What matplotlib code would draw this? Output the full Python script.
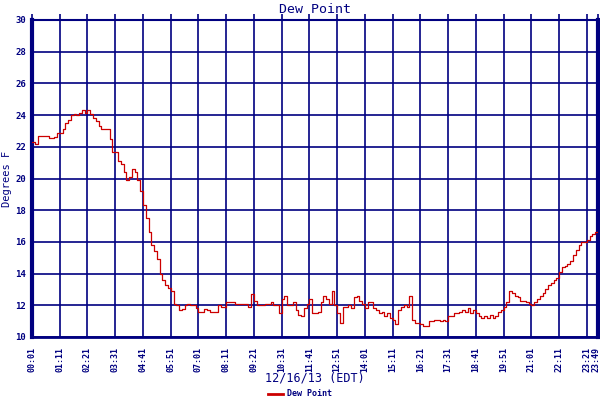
import numpy as np
import matplotlib
matplotlib.use("Agg")
import matplotlib.pyplot as plt
import matplotlib.transforms as mtransforms

# Sample times: minutes after midnight, every 7 minutes from 00:01 to 23:49
start_minute = 1
step_minutes = 7
dew_point = [
    22.3, 22.2, 22.65, 22.7, 22.7, 22.7, 22.55, 22.55, 22.6, 22.9,
    22.9, 23.1, 23.5, 23.7, 24.0, 24.1, 24.0, 24.15, 24.35, 24.15,
    24.3, 24.1, 23.8, 23.6, 23.3, 23.1, 23.1, 23.1, 22.5, 21.7,
    21.7, 21.1, 20.9, 20.4, 19.9, 20.1, 20.6, 20.4, 19.9, 19.2,
    18.3, 17.5, 16.6, 15.8, 15.4, 14.9, 14.0, 13.6, 13.3, 13.1,
    12.9, 12.1, 12.05, 11.7, 11.75, 12.0, 12.1, 12.0, 12.0, 11.8,
    11.6, 11.6, 11.75, 11.7, 11.6, 11.6, 11.6, 12.0, 11.9, 11.9,
    12.2, 12.2, 12.2, 12.1, 12.1, 12.1, 12.1, 12.1, 11.9, 12.7,
    12.3, 12.0, 12.0, 12.0, 12.1, 12.1, 12.2, 12.0, 12.0, 11.5,
    12.4, 12.6, 12.0, 12.0, 12.2, 11.7, 11.4, 11.3, 11.8, 12.1,
    12.4, 11.5, 11.5, 11.6, 12.2, 12.6, 12.4, 12.1, 12.9, 12.0,
    11.5, 10.9, 11.9, 11.9, 12.0, 11.8, 12.5, 12.6, 12.3, 12.1,
    11.8, 12.2, 12.2, 11.8, 11.7, 11.5, 11.6, 11.3, 11.5, 11.2,
    11.1, 10.8, 11.7, 11.9, 12.0, 11.9, 12.6, 11.1, 10.9, 10.9,
    10.85, 10.7, 10.7, 11.0, 11.0, 11.1, 11.1, 11.0, 11.05, 11.0,
    11.3, 11.3, 11.5, 11.5, 11.6, 11.7, 11.6, 11.8, 11.5, 11.7,
    11.5, 11.3, 11.2, 11.3, 11.2, 11.4, 11.2, 11.3, 11.6, 11.7,
    11.9, 12.2, 12.9, 12.8, 12.6, 12.5, 12.3, 12.3, 12.2, 12.1,
    12.0, 12.2, 12.4, 12.6, 12.8, 13.0, 13.3, 13.4, 13.6, 13.7,
    14.1, 14.4, 14.5, 14.6, 14.8, 15.2, 15.5, 15.8, 16.0, 16.0,
    16.1, 16.4, 16.5, 16.6, 16.7,
]
tick_minutes = [1, 71, 141, 211, 281, 351, 421, 491, 561, 631, 701, 771,
                841, 911, 981, 1051, 1121, 1191, 1261, 1331, 1401, 1429]
tick_labels = ["00:01", "01:11", "02:21", "03:31", "04:41", "05:51", "07:01",
               "08:11", "09:21", "10:31", "11:41", "12:51", "14:01", "15:11",
               "16:21", "17:31", "18:41", "19:51", "21:01", "22:11", "23:21",
               "23:49"]
y_ticks = [10, 12, 14, 16, 18, 20, 22, 24, 26, 28, 30]

times = start_minute + step_minutes * np.arange(len(dew_point))

NAVY = "#000080"
RED = "#cc0000"
MONO = "DejaVu Sans Mono"

fig = plt.figure(figsize=(6, 4), dpi=100)
ax = fig.add_axes([32 / 600, 1 - 337 / 400, 566 / 600, 317 / 400])

ax.plot(times, dew_point, color=RED, lw=0.9, drawstyle="steps-post",
        label="Dew Point", zorder=3)

ax.set_xlim(tick_minutes[0], tick_minutes[-1])
ax.set_ylim(10, 30)
ax.set_xticks(tick_minutes)
ax.set_xticklabels(tick_labels, rotation=90, family=MONO, fontsize=6,
                   fontweight="bold", color=NAVY)
ax.set_yticks(y_ticks)
ax.set_yticklabels([str(v) for v in y_ticks], family=MONO, fontsize=6.5,
                   fontweight="bold", color=NAVY)
ax.grid(True, color=NAVY, lw=1.2, zorder=1)
ax.tick_params(axis="x", which="both", bottom=False, top=True, direction="out",
               length=4, width=1.2, color=NAVY, pad=3)
ax.tick_params(axis="y", left=False, pad=1)

# nudge the last (edge) label slightly left so it stays inside the figure
last = ax.get_xticklabels()[-1]
last.set_transform(last.get_transform() +
                   mtransforms.ScaledTranslation(-2 / 100, 0, fig.dpi_scale_trans))

for side, w in [("left", 3), ("right", 3), ("bottom", 2), ("top", 1.5)]:
    ax.spines[side].set_color(NAVY)
    ax.spines[side].set_linewidth(w)

ax.set_title("Dew Point", family=MONO, fontsize=9.5, color=NAVY, pad=5)
ax.set_xlabel("12/16/13 (EDT)", family=MONO, fontsize=8.5, color=NAVY)
ax.xaxis.set_label_coords(0.5, -(378 - 337) / 317, transform=ax.transAxes)
ax.xaxis.label.set_va("center")
ax.set_ylabel("Degrees F", family=MONO, fontsize=7.5, color=NAVY)
ax.yaxis.set_label_coords(-(32 - 7) / 566, 0.5, transform=ax.transAxes)
ax.yaxis.label.set_va("center")

leg = fig.legend(loc="center", bbox_to_anchor=(0.5, 1 - 394 / 400), frameon=False,
                 prop={"family": MONO, "size": 6, "weight": "bold"},
                 handlelength=1.8, handletextpad=0.4, borderpad=0)
for t in leg.get_texts():
    t.set_color(NAVY)
for h in leg.legend_handles:
    h.set_linewidth(2)

fig.savefig("out.png", dpi=100)
